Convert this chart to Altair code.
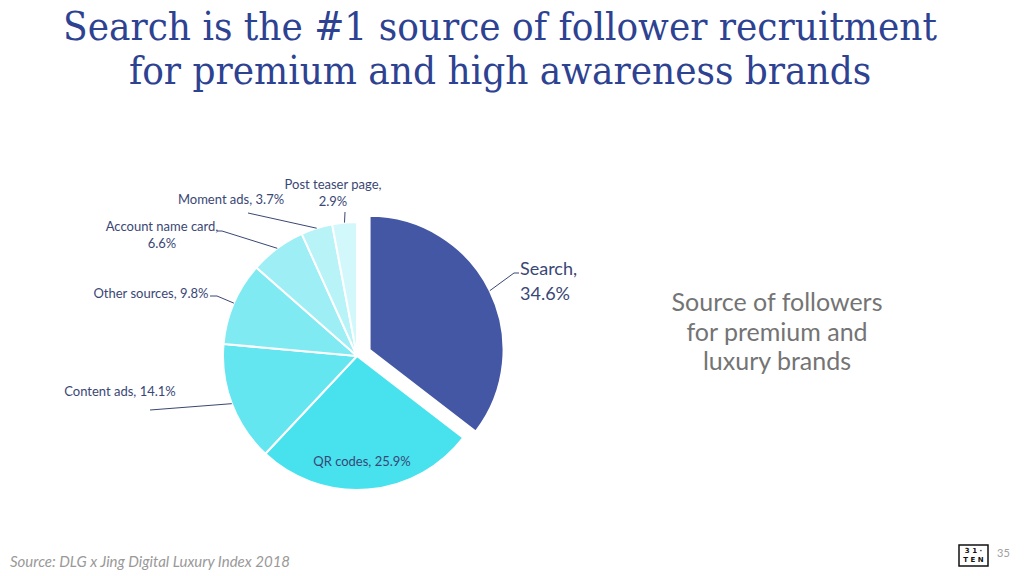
import math
import altair as alt
import pandas as pd

# ---------------- data ----------------
sources = ["Search", "QR codes", "Content ads", "Other sources",
           "Account name card", "Moment ads", "Post teaser page"]
shares = [34.6, 25.9, 14.1, 9.8, 6.6, 3.7, 2.9]
colors = ["#4457A4", "#47E2EE", "#63E6F0", "#80EAF3", "#9DEEF5", "#B8F3F8", "#D3F8FB"]

title_lines = ["Search is the #1 source of follower recruitment",
               "for premium and high awareness brands"]
side_lines = ["Source of followers", "for premium and", "luxury brands"]
source_note = "Source: DLG x Jing Digital Luxury Index 2018"
page_number = "35"

# ---------------- layout ----------------
W, H = 1024, 576
CX, CY, R = 357, 356, 134
EXPLODE = 14
LABEL_COLOR = "#3A4775"
FONT = "Lato"

# label layout: (break after name?, x, y of first line, align)
label_layout = {
    "Search": (True, 520, 270, "left"),
    "QR codes": (False, 362, 462, "center"),
    "Content ads": (False, 120, 392, "center"),
    "Other sources": (False, 151, 294, "center"),
    "Account name card": (True, 162, 227, "center"),
    "Moment ads": (False, 231, 200, "center"),
    "Post teaser page": (True, 333, 185, "center"),
}
# leader line start points (label side), in order toward the slice
leader_start = {
    "Search": [(519, 273), (514, 273)],
    "Content ads": [(150, 410)],
    "Other sources": [(210, 296), (217, 296)],
    "Account name card": [(217, 231), (222, 231)],
    "Moment ads": [(248, 213)],
    "Post teaser page": [(345, 212)],
}

total = sum(shares)
mids = []
cum = 0.0
for s in shares:
    mids.append((cum + s / 2) / total * 2 * math.pi)
    cum += s

search_mid = mids[0]
ex_dx = EXPLODE * math.sin(search_mid)
ex_dy = -EXPLODE * math.cos(search_mid)

pie_df = pd.DataFrame({"source": sources, "share": shares, "idx": list(range(len(sources)))})

# labels
lab_rows = []
for name, share in zip(sources, shares):
    brk, lx, ly, al = label_layout[name]
    txt = f"{name},\n{share}%" if brk else f"{name}, {share}%"
    lab_rows.append({"text": txt, "x": lx, "y": ly, "align": al})
lab_df = pd.DataFrame(lab_rows)

# leader segments
seg_rows = []
for name, mid in zip(sources, mids):
    if name not in leader_start:
        continue
    cx, cy = (CX + ex_dx, CY + ex_dy) if name == "Search" else (CX, CY)
    end = (cx + R * math.sin(mid), cy - R * math.cos(mid))
    pts = leader_start[name] + [end]
    for a, b in zip(pts[:-1], pts[1:]):
        seg_rows.append({"x": a[0], "y": a[1], "x2": b[0], "y2": b[1]})
seg_df = pd.DataFrame(seg_rows)

xs = alt.Scale(domain=[0, W])
ys = alt.Scale(domain=[0, H], reverse=True)

color_scale = alt.Scale(domain=sources, range=colors)

base_pie = alt.Chart(pie_df).encode(
    theta=alt.Theta("share:Q", stack=True),
    order=alt.Order("idx:Q"),
    color=alt.Color("source:N", scale=color_scale, legend=None),
)

pie_rest = base_pie.mark_arc(radius=R, stroke="white", strokeWidth=2).encode(
    x=alt.value(CX), y=alt.value(CY),
    opacity=alt.condition(alt.datum.source == "Search", alt.value(0), alt.value(1)),
)
pie_search = base_pie.mark_arc(radius=R, stroke="white", strokeWidth=2,
                               xOffset=ex_dx, yOffset=ex_dy).encode(
    x=alt.value(CX), y=alt.value(CY),
    opacity=alt.condition(alt.datum.source == "Search", alt.value(1), alt.value(0)),
)

leaders = alt.Chart(seg_df).mark_rule(color=LABEL_COLOR, strokeWidth=1).encode(
    x=alt.X("x:Q", scale=xs, axis=None),
    y=alt.Y("y:Q", scale=ys, axis=None),
    x2="x2:Q", y2="y2:Q",
)

small_labels = alt.Chart(lab_df[lab_df["align"] == "center"]).mark_text(
    font=FONT, fontSize=13, color=LABEL_COLOR, align="center", baseline="middle",
    lineBreak="\n", lineHeight=17,
).encode(
    x=alt.X("x:Q", scale=xs, axis=None),
    y=alt.Y("y:Q", scale=ys, axis=None),
    text="text:N",
)
search_label = alt.Chart(lab_df[lab_df["align"] == "left"]).mark_text(
    font=FONT, fontSize=18, color=LABEL_COLOR, align="left", baseline="middle",
    lineBreak="\n", lineHeight=25,
).encode(
    x=alt.X("x:Q", scale=xs, axis=None),
    y=alt.Y("y:Q", scale=ys, axis=None),
    text="text:N",
)

title = alt.Chart(pd.DataFrame({"t": ["\n".join(title_lines)]})).mark_text(
    font="DejaVu Serif Condensed", fontSize=40, color="#2E4292", align="center",
    baseline="middle", lineBreak="\n", lineHeight=44,
).encode(x=alt.value(500), y=alt.value(28), text="t:N")

side = alt.Chart(pd.DataFrame({"t": ["\n".join(side_lines)]})).mark_text(
    font=FONT, fontSize=25, color="#747474", align="center",
    baseline="middle", lineBreak="\n", lineHeight=29.5,
).encode(x=alt.value(777), y=alt.value(303), text="t:N")

note = alt.Chart(pd.DataFrame({"t": [source_note]})).mark_text(
    font=FONT, fontSize=15, fontStyle="italic", color="#999999", align="left",
    baseline="middle",
).encode(x=alt.value(10), y=alt.value(562), text="t:N")

logo_box = alt.Chart(pd.DataFrame({"a": [0]})).mark_rect(
    fill="white", stroke="#111111", strokeWidth=1.5,
).encode(x=alt.value(959), x2=alt.value(988), y=alt.value(545), y2=alt.value(566))

logo_text = alt.Chart(pd.DataFrame({"t": ["3 1 \u00b7\nT E N"]})).mark_text(
    font="DejaVu Sans", fontSize=7, fontWeight="bold", color="#111111",
    align="center", baseline="middle", lineBreak="\n", lineHeight=9,
).encode(x=alt.value(973.5), y=alt.value(551), text="t:N")

page = alt.Chart(pd.DataFrame({"t": [page_number]})).mark_text(
    font=FONT, fontSize=11, color="#A0A0A0", align="left", baseline="middle",
).encode(x=alt.value(997), y=alt.value(554), text="t:N")

chart = alt.layer(
    pie_rest, pie_search, leaders, small_labels, search_label,
    title, side, note, logo_box, logo_text, page,
).properties(
    width=W, height=H, padding=0, autosize=alt.AutoSizeParams(type="none"),
    background="white",
).configure_view(stroke=None)

chart.save("out.html", embed_options={"renderer": "svg", "actions": False})
